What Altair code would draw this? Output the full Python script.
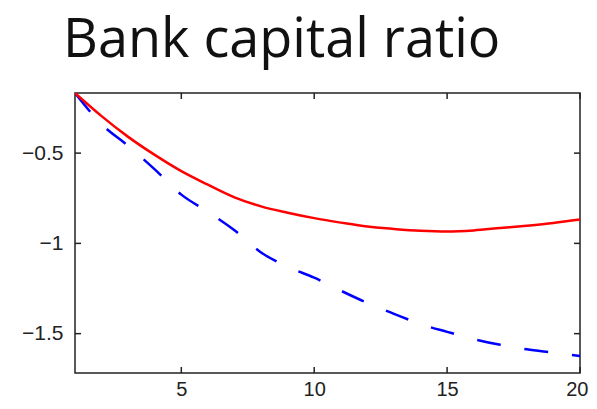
import altair as alt
import pandas as pd

periods = list(range(1, 21))
red_series = [-0.167, -0.295, -0.41, -0.51, -0.60, -0.675, -0.745, -0.795, -0.83, -0.86,
              -0.885, -0.907, -0.92, -0.93, -0.934, -0.928, -0.915, -0.902, -0.887, -0.868]
blue_series = [-0.167, -0.34, -0.46, -0.59, -0.73, -0.825, -0.927, -1.05, -1.13, -1.19,
               -1.262, -1.33, -1.39, -1.447, -1.49, -1.53, -1.562, -1.587, -1.605, -1.624]
x_ticks = [5, 10, 15, 20]
y_ticks = [-1.5, -1.0, -0.5]

W, H = 505, 280
TL = 6

df = pd.DataFrame({"t": periods, "red": red_series, "blue": blue_series})
xt = pd.DataFrame({"v": x_ticks})
yt = pd.DataFrame({"v": y_ticks})

xs = alt.Scale(domain=[1, 20], nice=False, zero=False)
ys = alt.Scale(domain=[-1.718, -0.167], nice=False, zero=False)

xax = alt.Axis(values=x_ticks, ticks=False, domain=False, grid=False, title=None,
               labelFont="Liberation Sans", labelFontSize=20, labelColor="#222",
               labelPadding=6, labelFlush=True, labelFlushOffset=8)
yax = alt.Axis(values=y_ticks, ticks=False, domain=False, grid=False, title=None,
               format="~g", labelFont="Liberation Sans", labelFontSize=21,
               labelColor="#222", labelPadding=12)

base = alt.Chart(df)
red = base.mark_line(color="#ff0000", strokeWidth=2.5, clip=True, interpolate="monotone").encode(
    x=alt.X("t:Q", scale=xs, axis=xax),
    y=alt.Y("red:Q", scale=ys, axis=yax),
)
blue = base.mark_line(color="#0000ff", strokeWidth=2.5, strokeDash=[24, 24], clip=True,
                      interpolate="monotone").encode(
    x=alt.X("t:Q", scale=xs),
    y=alt.Y("blue:Q", scale=ys),
)

xt_bot = alt.Chart(xt).mark_rule(color="#222", strokeWidth=1.5).encode(
    x=alt.X("v:Q", scale=xs), y=alt.value(H), y2=alt.value(H - TL))
xt_top = alt.Chart(xt).mark_rule(color="#222", strokeWidth=1.5).encode(
    x=alt.X("v:Q", scale=xs), y=alt.value(0), y2=alt.value(TL))
yt_left = alt.Chart(yt).mark_rule(color="#222", strokeWidth=1.5).encode(
    y=alt.Y("v:Q", scale=ys), x=alt.value(0), x2=alt.value(TL))
yt_right = alt.Chart(yt).mark_rule(color="#222", strokeWidth=1.5).encode(
    y=alt.Y("v:Q", scale=ys), x=alt.value(W), x2=alt.value(W - TL))

chart = alt.layer(xt_bot, xt_top, yt_left, yt_right, blue, red).properties(
    width=W, height=H,
    autosize=alt.AutoSizeParams(type="none"),
    padding={"left": 67, "top": 85, "right": 9, "bottom": 26},
    title=alt.TitleParams("Bank capital ratio", font="Open Sans", fontSize=54,
                          fontWeight="normal", color="#111", anchor="start",
                          frame="group", dx=-12, offset=24),
).configure_view(stroke="#222", strokeWidth=1.5)

chart.save("out.html", embed_options={"renderer": "svg", "actions": False})
